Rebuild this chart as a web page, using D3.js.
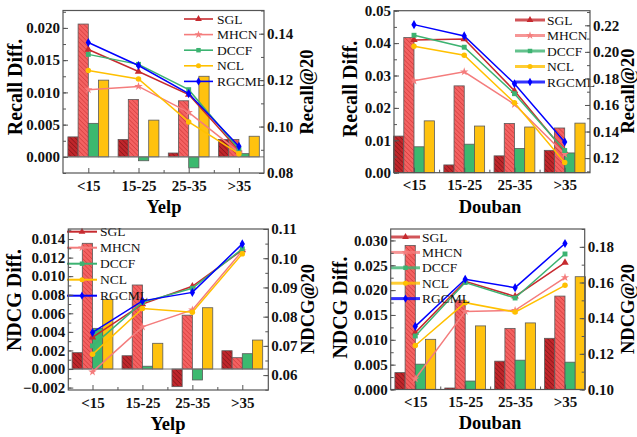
<!DOCTYPE html>
<html>
<head>
<meta charset="utf-8">
<script src="https://cdn.jsdelivr.net/npm/d3@7"></script>
<style>
  body { margin: 0; background: #fff; }
  text { font-family: "Liberation Serif", "Times New Roman", serif; }
</style>
</head>
<body>
<svg id="chart" width="637" height="437"></svg>
<script>
// categories and series
const groups = ["<15", "15-25", "25-35", ">35"];
const methods = ["SGL", "MHCN", "DCCF", "NCL", "RGCML"];
const barMethods = ["SGL", "MHCN", "DCCF", "NCL"];

// Yelp, Recall Diff. (bars, one row per method) and Recall@20 (lines)
const yelpRecallDiff = [
  [0.0031, 0.0027, 0.0006, 0.0027],
  [0.0206, 0.0089, 0.0087, 0.0027],
  [0.0052, -0.0006, -0.0017, 0.0005],
  [0.0119, 0.0057, 0.0125, 0.0032]
];
const yelpRecall20 = [
  [0.1332, 0.1237, 0.1138, 0.0898],
  [0.1159, 0.1173, 0.1061, 0.0890],
  [0.1311, 0.1268, 0.1159, 0.0903],
  [0.1242, 0.1205, 0.1020, 0.0883],
  [0.1362, 0.1263, 0.1142, 0.0915]
];

// Douban, Recall
const doubanRecallDiff = [
  [0.0113, 0.0024, 0.0052, 0.0069],
  [0.0417, 0.0268, 0.0152, 0.0138],
  [0.0080, 0.0088, 0.0075, 0.0061],
  [0.0160, 0.0144, 0.0141, 0.0153]
];
const doubanRecall20 = [
  [0.2090, 0.2097, 0.1707, 0.1250],
  [0.1782, 0.1850, 0.1605, 0.1230],
  [0.2125, 0.2035, 0.1685, 0.1257],
  [0.2042, 0.1975, 0.1617, 0.1167],
  [0.2205, 0.2120, 0.1760, 0.1322]
];

// Yelp, NDCG
const yelpNdcgDiff = [
  [0.00176, 0.00143, -0.0019, 0.00197],
  [0.01354, 0.00905, 0.0058, 0.00122],
  [0.00438, 0.0003, -0.00118, 0.00165],
  [0.0075, 0.00277, 0.0066, 0.00312]
];
const yelpNdcg20 = [
  [0.0729, 0.0843, 0.0904, 0.1028],
  [0.0611, 0.0765, 0.0823, 0.1025],
  [0.0700, 0.0849, 0.0897, 0.1032],
  [0.0671, 0.0828, 0.0815, 0.1015],
  [0.0746, 0.0854, 0.0883, 0.1049]
];

// Douban, NDCG
const doubanNdcgDiff = [
  [0.0034, 0.0003, 0.0057, 0.0103],
  [0.0290, 0.0180, 0.0123, 0.0188],
  [0.0051, 0.0017, 0.0059, 0.0055],
  [0.0101, 0.0128, 0.0134, 0.0227]
];
const doubanNdcg20 = [
  [0.1319, 0.1607, 0.1522, 0.1712],
  [0.1060, 0.1438, 0.1444, 0.1628],
  [0.1300, 0.1600, 0.1513, 0.1760],
  [0.1247, 0.1487, 0.1434, 0.1584],
  [0.1354, 0.1618, 0.1571, 0.1819]
];

// tick labels
const yelpRecallDiffTicks = [0, 0.005, 0.010, 0.015, 0.020];
const yelpRecallTicks = [0.08, 0.10, 0.12, 0.14];
const doubanRecallDiffTicks = [0, 0.01, 0.02, 0.03, 0.04, 0.05];
const doubanRecallTicks = [0.12, 0.14, 0.16, 0.18, 0.20, 0.22];
const yelpNdcgDiffTicks = [-0.002, 0, 0.002, 0.004, 0.006, 0.008, 0.010, 0.012, 0.014];
const yelpNdcgTicks = [0.06, 0.07, 0.08, 0.09, 0.10, 0.11];
const doubanNdcgDiffTicks = [0, 0.005, 0.010, 0.015, 0.020, 0.025, 0.030];
const doubanNdcgTicks = [0.10, 0.12, 0.14, 0.16, 0.18];

const barFill = { SGL: "#c0262b", MHCN: "#f46262", DCCF: "#3cb96f", NCL: "#ffc20e" };
const hatchColor = { SGL: "#861519", MHCN: "#d63e3e" };
const lineColor = { SGL: "#c62a2f", MHCN: "#f47c7c", DCCF: "#3cb371", NCL: "#ffc000", RGCML: "#0000ff" };
const symbols = { SGL: d3.symbolTriangle, MHCN: d3.symbolStar, DCCF: d3.symbolSquare, NCL: d3.symbolCircle, RGCML: d3.symbolDiamond };

const panels = [
  { bars: yelpRecallDiff, lines: yelpRecall20, left: 63, right: 264, top: 10.5, bottom: 173, c0: 88.3, c3: 238.9,
    yL: [-0.0025, 0.0227], yR: [0.08, 0.15], lTicks: yelpRecallDiffTicks, rTicks: yelpRecallTicks, lFmt: ".3f", rFmt: ".2f",
    zero: true, leftTitle: "Recall Diff.", rightTitle: "Recall@20", xTitle: "Yelp",
    lt: [15, 87], rt: [307, 92], xt: [164, 213], leg: { x0: 184, x1: 213, tx: 217, y0: 19, dy: 15.6, w: 1.6 } },
  { bars: doubanRecallDiff, lines: doubanRecall20, left: 394, right: 590, top: 10.7, bottom: 172.7, c0: 414, c3: 564.7,
    yL: [0, 0.05], yR: [0.109, 0.231], lTicks: doubanRecallDiffTicks, rTicks: doubanRecallTicks, lFmt: ".2f", rFmt: ".2f",
    zero: false, leftTitle: "Recall Diff.", rightTitle: "Recall@20", xTitle: "Douban",
    lt: [350, 89], rt: [627.5, 91], xt: [490, 213], leg: { x0: 515, x1: 545, tx: 547, y0: 20, dy: 15.5, w: 3 } },
  { bars: yelpNdcgDiff, lines: yelpNdcg20, left: 68.3, right: 268.3, top: 229, bottom: 390, c0: 92.5, c3: 242.3,
    yL: [-0.00226, 0.01508], yR: [0.0549, 0.11], lTicks: yelpNdcgDiffTicks, rTicks: yelpNdcgTicks, lFmt: ".3f", rFmt: ".2f",
    zero: true, leftTitle: "NDCG Diff.", rightTitle: "NDCG@20", xTitle: "Yelp",
    lt: [13.5, 300], rt: [308, 309], xt: [168, 430], leg: { x0: 67, x1: 97, tx: 100, y0: 231.7, dy: 16, w: 2 } },
  { bars: doubanNdcgDiff, lines: doubanNdcg20, left: 390.7, right: 584.7, top: 229, bottom: 389.5, c0: 415.3, c3: 565,
    yL: [0, 0.0323], yR: [0.10, 0.19], lTicks: doubanNdcgDiffTicks, rTicks: doubanNdcgTicks, lFmt: ".3f", rFmt: ".2f",
    zero: false, leftTitle: "NDCG Diff.", rightTitle: "NDCG@20", xTitle: "Douban",
    lt: [340, 307.5], rt: [627.5, 309], xt: [490, 428.5], leg: { x0: 391, x1: 420, tx: 422, y0: 237, dy: 15.4, w: 3 } }
];

const svg = d3.select("#chart");
svg.append("rect").attr("width", 637).attr("height", 437).attr("fill", "#fff");

// hatch patterns
const defs = svg.append("defs");
Object.keys(hatchColor).forEach(function (m) {
  const p = defs.append("pattern")
    .attr("id", "hatch-" + m)
    .attr("patternUnits", "userSpaceOnUse")
    .attr("width", 3.2).attr("height", 3.2)
    .attr("patternTransform", "rotate(-45)");
  p.append("rect").attr("width", 3.2).attr("height", 3.2).attr("fill", barFill[m]);
  p.append("line").attr("x1", 0).attr("y1", 0).attr("x2", 0).attr("y2", 3.2)
    .attr("stroke", hatchColor[m]).attr("stroke-width", 1.4);
});

function minorTicks(ticks, domain) {
  const step = ticks[1] - ticks[0];
  const out = [];
  for (let v = ticks[0] - step / 2; v <= domain[1] + 1e-9; v += step / 2) {
    if (v >= domain[0] - 1e-9) out.push(+v.toFixed(6));
  }
  return out;
}

panels.forEach(function (p) {
  const g = svg.append("g");
  const x = d3.scalePoint().domain(groups).range([p.c0, p.c3]);
  const step = x.step();
  const yL = d3.scaleLinear().domain(p.yL).range([p.bottom, p.top]);
  const yR = d3.scaleLinear().domain(p.yR).range([p.bottom, p.top]);
  const barW = 10.2;

  // bars
  p.bars.forEach(function (vals, i) {
    const m = barMethods[i];
    g.selectAll(null)
      .data(vals)
      .enter()
      .append("rect")
      .attr("x", function (d, j) { return x(groups[j]) + (i - 2) * barW; })
      .attr("y", function (d) { return yL(Math.max(d, 0)); })
      .attr("width", barW)
      .attr("height", function (d) { return Math.abs(yL(d) - yL(0)); })
      .attr("fill", hatchColor[m] ? "url(#hatch-" + m + ")" : barFill[m])
      .attr("stroke", "#5a5a5a")
      .attr("stroke-width", 0.8);
  });

  if (p.zero) {
    g.append("line")
      .attr("x1", p.left).attr("x2", p.right)
      .attr("y1", yL(0)).attr("y2", yL(0))
      .attr("stroke", "#777").attr("stroke-width", 1);
  }

  // lines
  const line = d3.line()
    .x(function (d, j) { return x(groups[j]); })
    .y(function (d) { return yR(d); });

  p.lines.forEach(function (vals, i) {
    const m = methods[i];
    g.append("path")
      .attr("d", line(vals))
      .attr("fill", "none")
      .attr("stroke", lineColor[m])
      .attr("stroke-width", 1.5);
    g.selectAll(null)
      .data(vals)
      .enter()
      .append("path")
      .attr("transform", function (d, j) { return "translate(" + x(groups[j]) + "," + yR(d) + ")"; })
      .attr("d", d3.symbol().type(symbols[m]).size(m === "MHCN" ? 22 : 24))
      .attr("fill", lineColor[m]);
  });

  // legend
  methods.forEach(function (m, i) {
    const ly = p.leg.y0 + i * p.leg.dy;
    g.append("line")
      .attr("x1", p.leg.x0).attr("x2", p.leg.x1)
      .attr("y1", ly).attr("y2", ly)
      .attr("stroke", lineColor[m])
      .attr("stroke-opacity", p.leg.w > 2 ? 0.8 : 1)
      .attr("stroke-width", p.leg.w);
    g.append("path")
      .attr("transform", "translate(" + (p.leg.x0 + p.leg.x1) / 2 + "," + ly + ")")
      .attr("d", d3.symbol().type(symbols[m]).size(20))
      .attr("fill", lineColor[m]);
    g.append("text")
      .attr("x", p.leg.tx).attr("y", ly + 4.6)
      .attr("font-size", 13.5)
      .attr("fill", "#111")
      .text(m);
  });

  // frame
  g.append("rect")
    .attr("x", p.left).attr("y", p.top)
    .attr("width", p.right - p.left).attr("height", p.bottom - p.top)
    .attr("fill", "none").attr("stroke", "#555").attr("stroke-width", 1.2);

  // axes
  const lAxis = g.append("g").attr("transform", "translate(" + p.left + ",0)")
    .call(d3.axisLeft(yL).tickValues(p.lTicks).tickFormat(d3.format(p.lFmt)).tickSize(-5).tickPadding(3));
  g.append("g").attr("transform", "translate(" + p.left + ",0)")
    .call(d3.axisLeft(yL).tickValues(minorTicks(p.lTicks, p.yL)).tickFormat("").tickSize(-3));
  const rAxis = g.append("g").attr("transform", "translate(" + p.right + ",0)")
    .call(d3.axisRight(yR).tickValues(p.rTicks).tickFormat(d3.format(p.rFmt)).tickSize(-5).tickPadding(3));
  g.append("g").attr("transform", "translate(" + p.right + ",0)")
    .call(d3.axisRight(yR).tickValues(minorTicks(p.rTicks, p.yR)).tickFormat("").tickSize(-3));
  const xAxis = g.append("g").attr("transform", "translate(0," + p.bottom + ")")
    .call(d3.axisBottom(x).tickSize(-5).tickPadding(7));
  const mids = groups.slice(0, 3).map(function (d) { return x(d) + step / 2; });
  g.append("g").attr("transform", "translate(0," + p.bottom + ")")
    .call(d3.axisBottom(d3.scaleLinear().domain([0, 637]).range([0, 637])).tickValues(mids).tickFormat("").tickSize(-3));

  g.selectAll(".domain").remove();
  g.selectAll(".tick line").attr("stroke", "#555");
  [lAxis, rAxis, xAxis].forEach(function (a) {
    a.selectAll("text")
      .attr("font-family", "Liberation Serif")
      .attr("font-weight", "bold")
      .attr("font-size", 15)
      .attr("fill", "#111");
  });

  // titles
  g.append("text")
    .attr("transform", "translate(" + p.lt[0] + "," + p.lt[1] + ") rotate(-90)")
    .attr("text-anchor", "middle").attr("dominant-baseline", "central")
    .attr("font-weight", "bold").attr("font-size", 20)
    .text(p.leftTitle);
  g.append("text")
    .attr("transform", "translate(" + p.rt[0] + "," + p.rt[1] + ") rotate(-90)")
    .attr("text-anchor", "middle").attr("dominant-baseline", "central")
    .attr("font-weight", "bold").attr("font-size", 18.5)
    .text(p.rightTitle);
  g.append("text")
    .attr("x", p.xt[0]).attr("y", p.xt[1])
    .attr("text-anchor", "middle")
    .attr("font-weight", "bold").attr("font-size", 18.5)
    .text(p.xTitle);
});
</script>
</body>
</html>
